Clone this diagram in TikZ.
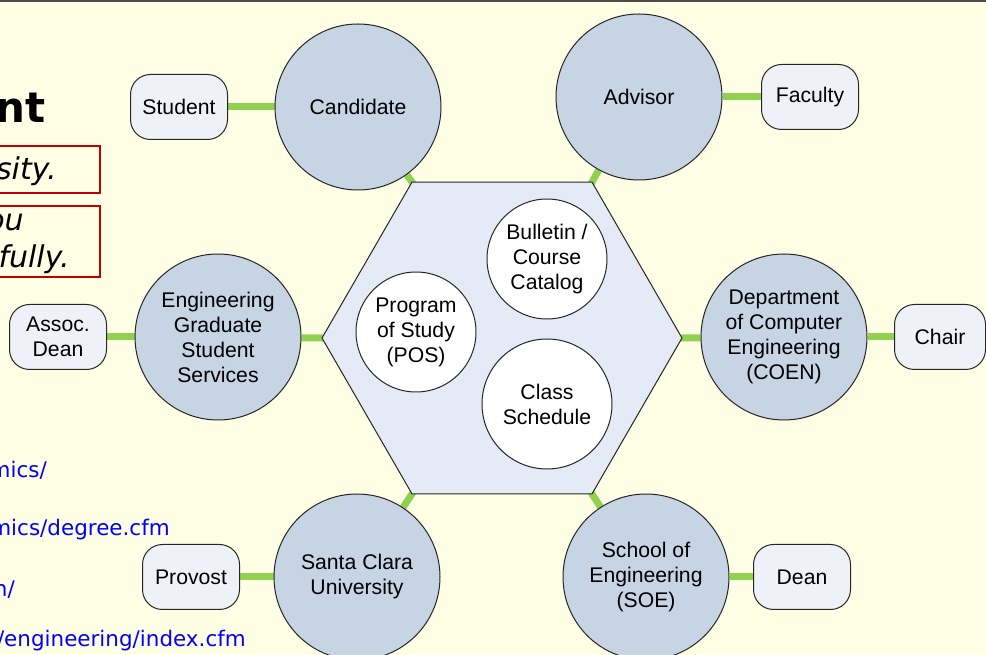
\documentclass[tikz,border=0pt]{standalone}
\usepackage{fontspec}
\setmainfont{Liberation Sans}
\newfontfamily\slidefont{DejaVu Sans}
\usepackage{xcolor}
\usetikzlibrary{shapes.geometric}

\definecolor{cream}{RGB}{255,255,229}
\definecolor{rolefill}{RGB}{198,212,228}
\definecolor{boxfill}{RGB}{238,241,248}
\definecolor{hexfill}{RGB}{228,235,246}
\definecolor{tiegreen}{RGB}{146,208,80}
\definecolor{boxred}{RGB}{192,0,0}
\definecolor{urlblue}{RGB}{0,0,255}

\pgfdeclarelayer{bg}
\pgfsetlayers{bg,main}

\tikzset{
  role/.style={circle, draw=black!85, line width=0.75pt, fill=rolefill,
    minimum size=124.5pt, inner sep=0pt, align=center,
    font=\fontsize{15.9}{18.75}\selectfont},
  person/.style={rectangle, rounded corners=15pt, draw=black!85, line width=0.75pt,
    fill=boxfill, minimum width=72.75pt, minimum height=48.75pt,
    inner sep=2pt, align=center, font=\fontsize{15.9}{18.75}\selectfont},
  doc/.style={circle, draw=black!85, line width=0.75pt, fill=white,
    minimum size=90pt, inner sep=0pt, align=center,
    font=\fontsize{15.9}{18.75}\selectfont},
  tie/.style={draw=tiegreen, line width=5.25pt},
  slidetext/.style={anchor=base east, inner sep=0pt,
    font=\slidefont\itshape\fontsize{22.5}{27}\selectfont},
  url/.style={anchor=base east, inner sep=0pt, text=urlblue,
    font=\slidefont\fontsize{16.1}{19}\selectfont},
}

\begin{document}
\begin{tikzpicture}[x=0.75pt, y=-0.75pt]
\useasboundingbox (0,0) rectangle (986,655);
\clip (0,0) rectangle (986,655);
\begin{pgfonlayer}{bg}
\fill[cream] (0,0) rectangle (986,655);
\end{pgfonlayer}
\draw[black!70, line width=1.5pt] (0,1) -- (986,1);

%%%%% Slide text (cut off on the left) %%%%%
\node[anchor=base east, inner sep=0pt, font=\slidefont\bfseries\fontsize{31.5}{36}\selectfont] (title) at (46,123) {nt};
\draw[boxred, line width=1.5pt] (-5,146) rectangle (100,193);
\draw[boxred, line width=1.5pt] (-5,206) rectangle (100,277);
\node[slidetext] (noteA) at (57,180) {sity.};
\node[slidetext] (noteB) at (24,231) {ou};
\node[slidetext] (noteC) at (70,268) {fully.};
\node[url] (urlA) at (47,478) {mics/};
\node[url] (urlB) at (170,536) {mics/degree.cfm};
\node[url] (urlC) at (15,597) {n/};
\node[url] (urlD) at (246,647) {/engineering/index.cfm};

%%%%% Centre %%%%%
\node[regular polygon, regular polygon sides=6, minimum size=270pt, inner sep=0pt,
  draw=black!85, line width=0.75pt, fill=hexfill] (hex) at (502,338) {};
\node[doc] (bull) at (547,259) {Bulletin /\\Course\\Catalog};
\node[doc] (pos) at (416,332) {Program\\of Study\\(POS)};
\node[doc, minimum size=97.5pt] (sched) at (547,404) {Class\\Schedule};

%%%%% Roles %%%%%
\node[role] (cand) at (358,107) {Candidate};
\node[role] (adv) at (639,97) {Advisor};
\node[role] (egss) at (218,337) {Engineering\\Graduate\\Student\\Services};
\node[role] (coen) at (784,337) {Department\\of Computer\\Engineering\\(COEN)};
\node[role] (scu) at (357,577) {Santa Clara\\University};
\node[role] (soe) at (646,577) {School of\\Engineering\\(SOE)};

%%%%% People %%%%%
\node[person] (stu) at (179,107) {Student};
\node[person] (fac) at (810,97) {Faculty};
\node[person] (assoc) at (58,337) {Assoc.\\Dean};
\node[person, minimum width=68.25pt] (chair) at (940,337) {Chair};
\node[person] (prov) at (191,577) {Provost};
\node[person] (dean) at (802,577) {Dean};

%%%%% Ties %%%%%
\begin{pgfonlayer}{bg}
\draw[tie] (stu) -- (cand);
\draw[tie] (adv) -- (fac);
\draw[tie] (assoc) -- (egss);
\draw[tie] (coen) -- (chair);
\draw[tie] (prov) -- (scu);
\draw[tie] (soe) -- (dean);
\draw[tie, shorten <=-6pt] (hex.120) -- (cand);
\draw[tie, shorten <=-6pt] (hex.60) -- (adv);
\draw[tie, shorten <=-6pt] (hex.180) -- (egss);
\draw[tie, shorten <=-6pt] (hex.0) -- (coen);
\draw[tie, shorten <=-6pt] (hex.240) -- (scu);
\draw[tie, shorten <=-6pt] (hex.300) -- (soe);
\end{pgfonlayer}
\end{tikzpicture}
\end{document}
